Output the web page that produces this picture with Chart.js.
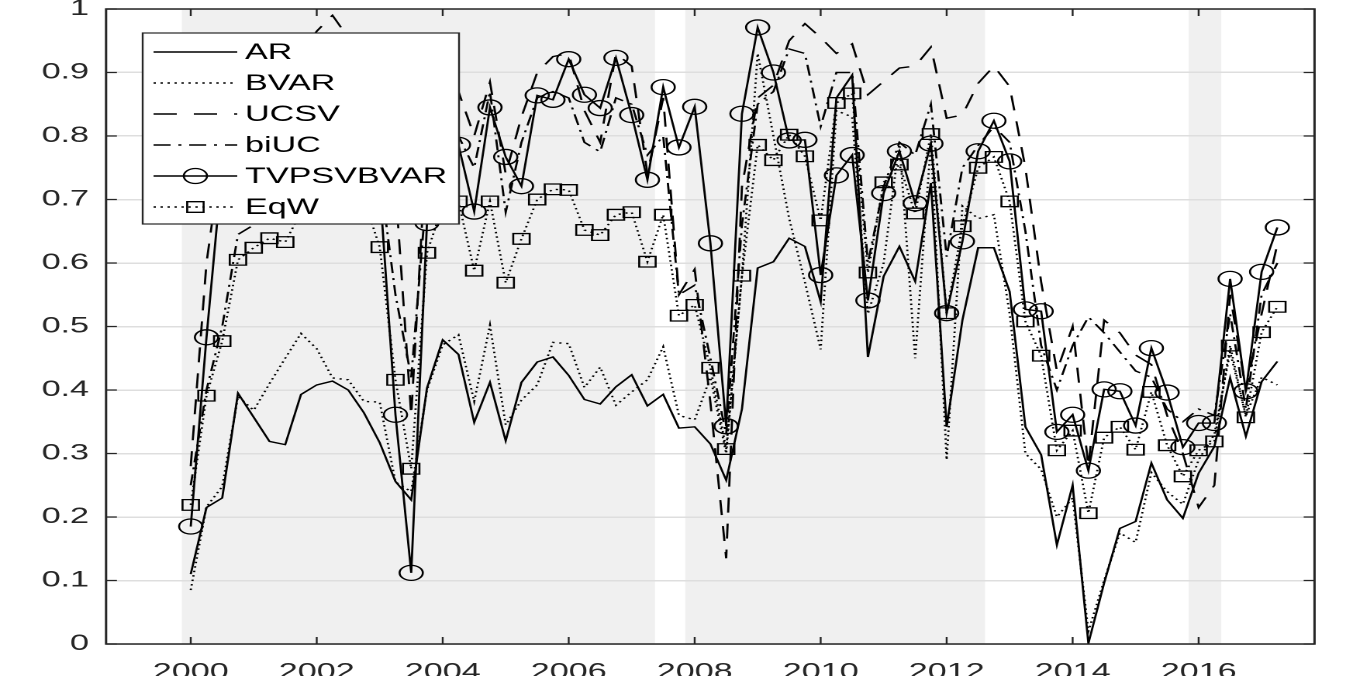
<!DOCTYPE html>
<html>
<head>
<meta charset="utf-8">
<script src="https://cdn.jsdelivr.net/npm/chart.js@4.4.1/dist/chart.umd.min.js"></script>
<style>
    html, body { margin: 0; padding: 0; background: #fff; }
    #forecastChart { display: block; }
</style>
</head>
<body>
<!-- drawn at 868 px wide and stretched to 1346 px, like the saved figure -->
<canvas id="forecastChart" width="868" height="676" style="width:1346px;height:676px"></canvas>
<script>
const quarters = [
    "2000Q1", "2000Q2", "2000Q3", "2000Q4",
    "2001Q1", "2001Q2", "2001Q3", "2001Q4",
    "2002Q1", "2002Q2", "2002Q3", "2002Q4",
    "2003Q1", "2003Q2", "2003Q3", "2003Q4",
    "2004Q1", "2004Q2", "2004Q3", "2004Q4",
    "2005Q1", "2005Q2", "2005Q3", "2005Q4",
    "2006Q1", "2006Q2", "2006Q3", "2006Q4",
    "2007Q1", "2007Q2", "2007Q3", "2007Q4",
    "2008Q1", "2008Q2", "2008Q3", "2008Q4",
    "2009Q1", "2009Q2", "2009Q3", "2009Q4",
    "2010Q1", "2010Q2", "2010Q3", "2010Q4",
    "2011Q1", "2011Q2", "2011Q3", "2011Q4",
    "2012Q1", "2012Q2", "2012Q3", "2012Q4",
    "2013Q1", "2013Q2", "2013Q3", "2013Q4",
    "2014Q1", "2014Q2", "2014Q3", "2014Q4",
    "2015Q1", "2015Q2", "2015Q3", "2015Q4",
    "2016Q1", "2016Q2", "2016Q3", "2016Q4",
    "2017Q1", "2017Q2",
];

const arValues = [
    0.110, 0.215, 0.230, 0.395, 0.357, 0.319, 0.314, 0.393,
    0.408, 0.414, 0.400, 0.364, 0.317, 0.256, 0.227, 0.403,
    0.479, 0.456, 0.349, 0.412, 0.320, 0.412, 0.444, 0.452,
    0.423, 0.385, 0.378, 0.405, 0.424, 0.375, 0.393, 0.340,
    0.342, 0.315, 0.258, 0.370, 0.592, 0.602, 0.639, 0.626,
    0.539, 0.860, 0.896, 0.452, 0.579, 0.626, 0.571, 0.726,
    0.342, 0.510, 0.624, 0.624, 0.555, 0.342, 0.298, 0.156,
    0.250, 0.001, 0.096, 0.182, 0.193, 0.285, 0.227, 0.198,
    0.269, 0.311, 0.419, 0.327, 0.413, 0.445,
];

const bvarValues = [
    0.085, 0.216, 0.248, 0.390, 0.368, 0.410, 0.450, 0.489,
    0.465, 0.419, 0.416, 0.382, 0.381, 0.255, 0.240, 0.400,
    0.471, 0.487, 0.382, 0.502, 0.345, 0.384, 0.408, 0.475,
    0.473, 0.404, 0.436, 0.376, 0.397, 0.416, 0.468, 0.360,
    0.353, 0.420, 0.300, 0.580, 0.930, 0.800, 0.670, 0.570,
    0.464, 0.840, 0.830, 0.520, 0.600, 0.790, 0.450, 0.790,
    0.290, 0.690, 0.670, 0.676, 0.520, 0.300, 0.275, 0.200,
    0.230, 0.020, 0.100, 0.175, 0.160, 0.270, 0.240, 0.220,
    0.290, 0.330, 0.460, 0.360, 0.420, 0.408,
];

const ucsvValues = [
    0.280, 0.600, 0.780, 0.820, 0.850, 0.880, 0.900, 0.930,
    0.965, 0.990, 0.955, 0.930, 0.900, 0.720, 0.360, 0.800,
    0.950, 0.870, 0.800, 0.885, 0.740, 0.830, 0.900, 0.925,
    0.930, 0.840, 0.790, 0.930, 0.910, 0.740, 0.860, 0.550,
    0.590, 0.380, 0.135, 0.720, 0.860, 0.880, 0.950, 0.977,
    0.955, 0.930, 0.945, 0.865, 0.886, 0.907, 0.910, 0.940,
    0.828, 0.833, 0.883, 0.910, 0.878, 0.750, 0.570, 0.430,
    0.500, 0.280, 0.510, 0.490, 0.455, 0.440, 0.360, 0.300,
    0.215, 0.250, 0.550, 0.400, 0.520, 0.630,
];

const biucValues = [
    0.250, 0.400, 0.500, 0.645, 0.660, 0.690, 0.720, 0.760,
    0.800, 0.820, 0.800, 0.780, 0.740, 0.550, 0.420, 0.720,
    0.900, 0.800, 0.750, 0.870, 0.680, 0.790, 0.860, 0.870,
    0.860, 0.790, 0.775, 0.860, 0.850, 0.770, 0.800, 0.550,
    0.565, 0.450, 0.330, 0.660, 0.850, 0.870, 0.937, 0.930,
    0.815, 0.900, 0.900, 0.600, 0.720, 0.790, 0.770, 0.850,
    0.610, 0.750, 0.785, 0.815, 0.790, 0.650, 0.470, 0.400,
    0.470, 0.515, 0.490, 0.460, 0.430, 0.420, 0.370, 0.350,
    0.370, 0.360, 0.520, 0.370, 0.550, 0.600,
];

const tvpsvValues = [
    0.185, 0.483, 0.750, 0.820, 0.850, 0.860, 0.870, 0.880,
    0.900, 0.910, 0.900, 0.880, 0.720, 0.361, 0.112, 0.663,
    0.830, 0.786, 0.681, 0.845, 0.767, 0.721, 0.864, 0.857,
    0.921, 0.865, 0.844, 0.923, 0.833, 0.731, 0.877, 0.782,
    0.846, 0.631, 0.343, 0.835, 0.971, 0.900, 0.793, 0.794,
    0.581, 0.738, 0.770, 0.541, 0.710, 0.776, 0.694, 0.788,
    0.521, 0.634, 0.776, 0.824, 0.760, 0.527, 0.524, 0.334,
    0.361, 0.273, 0.401, 0.398, 0.344, 0.466, 0.396, 0.310,
    0.348, 0.348, 0.575, 0.398, 0.586, 0.656,
];

const eqwValues = [
    0.219, 0.391, 0.477, 0.605, 0.624, 0.639, 0.633, 0.680,
    0.710, 0.730, 0.720, 0.700, 0.625, 0.416, 0.276, 0.616,
    0.690, 0.697, 0.588, 0.697, 0.569, 0.638, 0.700, 0.716,
    0.715, 0.652, 0.644, 0.676, 0.680, 0.602, 0.676, 0.517,
    0.534, 0.435, 0.307, 0.580, 0.786, 0.762, 0.802, 0.768,
    0.667, 0.852, 0.867, 0.585, 0.727, 0.755, 0.678, 0.803,
    0.521, 0.658, 0.750, 0.767, 0.697, 0.508, 0.454, 0.305,
    0.336, 0.206, 0.325, 0.342, 0.306, 0.397, 0.313, 0.264,
    0.305, 0.319, 0.470, 0.357, 0.491, 0.531,
];

const xTickYears = [2000, 2002, 2004, 2006, 2008, 2010, 2012, 2014, 2016];
const yTickValues = [0, 0.1, 0.2, 0.3, 0.4, 0.5, 0.6, 0.7, 0.8, 0.9, 1];
// grey periods behind the lines (in years)
const shadeBands = [[1999.86, 2007.37], [2007.85, 2012.61], [2015.84, 2016.36]];

const FONT = "'Liberation Sans', Arial, Helvetica, sans-serif";
const AXIS_COLOR = "#262626";

function quarterToYear(q) {
    const [year, n] = q.split("Q");
    return Number(year) + (Number(n) - 1) / 4;
}

function toPoints(values) {
    return quarters.map((q, i) => ({ x: quarterToYear(q), y: values[i] }));
}

function makeSeries(label, values, dash, marker) {
    return {
        label: label,
        data: toPoints(values),
        borderColor: "#000",
        borderWidth: 1.4,
        borderDash: dash,
        tension: 0,
        fill: false,
        pointStyle: marker || "circle",
        pointRadius: marker ? 7.5 : 0,
        pointHoverRadius: marker ? 7.5 : 0,
        pointBorderWidth: 1.3,
        pointBorderColor: "#000",
        pointBackgroundColor: "rgba(0,0,0,0)",
    };
}

function drawMarker(ctx, style, x, y, r) {
    ctx.beginPath();
    if (style === "rect") {
        const s = r * Math.SQRT1_2;
        ctx.rect(x - s, y - s, 2 * s, 2 * s);
    } else {
        ctx.arc(x, y, r, 0, Math.PI * 2);
    }
    ctx.stroke();
}

// legend box in the upper left corner, drawn on top of the lines
function drawLegend(chart) {
    const ctx = chart.ctx;
    const box = { left: 92, top: 33, right: 296, bottom: 224 };
    ctx.save();
    ctx.fillStyle = "#fff";
    ctx.fillRect(box.left, box.top, box.right - box.left, box.bottom - box.top);
    ctx.strokeStyle = AXIS_COLOR;
    ctx.lineWidth = 1.2;
    ctx.strokeRect(box.left, box.top, box.right - box.left, box.bottom - box.top);

    chart.data.datasets.forEach((ds, i) => {
        const y = 52 + i * 31;
        ctx.strokeStyle = "#000";
        ctx.lineWidth = ds.borderWidth;
        ctx.setLineDash(ds.borderDash || []);
        ctx.beginPath();
        ctx.moveTo(99, y);
        ctx.lineTo(153, y);
        ctx.stroke();
        ctx.setLineDash([]);
        if (ds.pointRadius > 0) {
            ctx.lineWidth = ds.pointBorderWidth;
            drawMarker(ctx, ds.pointStyle, 126, y, ds.pointRadius);
        }
        ctx.fillStyle = "#000";
        ctx.font = "22px " + FONT;
        ctx.textBaseline = "middle";
        ctx.fillText(ds.label, 158, y + 1);
    });
    ctx.restore();
}

const matlabFrame = {
    id: "matlabFrame",
    beforeDraw(chart) {
        const { ctx, chartArea: a, scales } = chart;
        ctx.save();
        ctx.fillStyle = "#f0f0f0";
        shadeBands.forEach(([start, end]) => {
            const x1 = Math.max(a.left, scales.x.getPixelForValue(start));
            const x2 = Math.min(a.right, scales.x.getPixelForValue(end));
            ctx.fillRect(x1, a.top, x2 - x1, a.bottom - a.top);
        });
        ctx.restore();
    },
    afterDatasetsDraw(chart) {
        drawLegend(chart);
    },
    afterDraw(chart) {
        const { ctx, chartArea: a, scales } = chart;
        ctx.save();
        ctx.strokeStyle = AXIS_COLOR;
        ctx.lineWidth = 1.2;
        ctx.beginPath();
        xTickYears.forEach((v) => {
            const px = scales.x.getPixelForValue(v);
            ctx.moveTo(px, a.bottom);
            ctx.lineTo(px, a.bottom - 7);
            ctx.moveTo(px, a.top);
            ctx.lineTo(px, a.top + 7);
        });
        yTickValues.forEach((v) => {
            const py = scales.y.getPixelForValue(v);
            ctx.moveTo(a.left, py);
            ctx.lineTo(a.left + 7, py);
            ctx.moveTo(a.right, py);
            ctx.lineTo(a.right - 7, py);
        });
        ctx.stroke();
        ctx.lineWidth = 1.5;
        ctx.strokeRect(a.left, a.top, a.right - a.left, a.bottom - a.top);
        ctx.restore();
    },
};

Chart.defaults.font.family = FONT;
Chart.defaults.font.size = 22;

const ctx = document.getElementById("forecastChart").getContext("2d");

const forecastChart = new Chart(ctx, {
    type: "line",
    data: {
        datasets: [
            makeSeries("AR", arValues, []),
            makeSeries("BVAR", bvarValues, [1.5, 3]),
            makeSeries("UCSV", ucsvValues, [15, 11]),
            makeSeries("biUC", biucValues, [11, 5, 2, 5]),
            makeSeries("TVPSVBVAR", tvpsvValues, [], "circle"),
            makeSeries("EqW", eqwValues, [1.5, 3], "rect"),
        ],
    },
    options: {
        responsive: false,
        devicePixelRatio: 2,
        animation: false,
        layout: { padding: { top: 9, right: 20.3, left: 0, bottom: 0 } },
        plugins: {
            legend: { display: false },
            tooltip: { enabled: false },
            title: { display: false },
        },
        scales: {
            x: {
                type: "linear",
                min: 1998.656,
                max: 2017.84,
                afterBuildTicks: (scale) => {
                    scale.ticks = xTickYears.map((v) => ({ value: v }));
                },
                afterFit: (scale) => {
                    scale.height = 32;
                    scale.paddingLeft = 0;
                    scale.paddingRight = 0;
                },
                grid: { display: false },
                border: { display: false },
                ticks: {
                    padding: 7,
                    color: AXIS_COLOR,
                    maxRotation: 0,
                    autoSkip: false,
                    callback: (value) => String(value),
                },
            },
            y: {
                type: "linear",
                min: 0,
                max: 1,
                afterBuildTicks: (scale) => {
                    scale.ticks = yTickValues.map((v) => ({ value: v }));
                },
                afterFit: (scale) => {
                    scale.width = 68.4;
                    scale.paddingTop = 0;
                    scale.paddingBottom = 0;
                },
                grid: { color: "#dedede", lineWidth: 1.5, drawTicks: false },
                border: { display: false },
                ticks: {
                    padding: 11,
                    color: AXIS_COLOR,
                    callback: (value) => String(Number(value.toFixed(1))),
                },
            },
        },
    },
    plugins: [matlabFrame],
});
</script>
</body>
</html>
